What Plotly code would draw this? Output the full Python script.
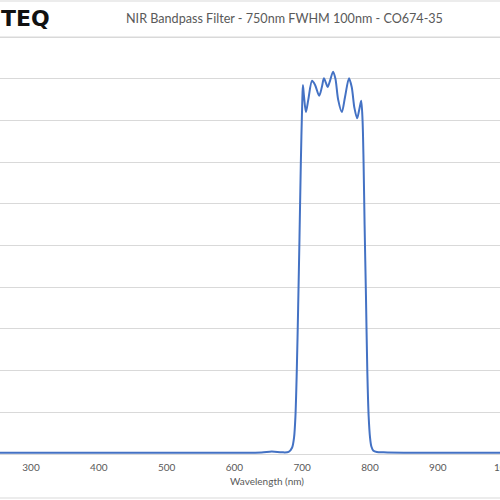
import plotly.graph_objects as go

wavelength_nm = [250, 300, 350, 400, 450, 500, 550, 600, 640, 655, 670, 680, 685, 688, 690, 692, 694, 696, 698,
                 700, 701, 702.5, 705.5, 709, 714.5, 719, 725, 729, 732, 735, 737.5, 741, 745.5, 749, 753, 758.5,
                 763, 769, 773, 777, 781, 784, 787, 789, 790.5, 792, 794, 796, 798, 800, 802, 805, 810, 820, 850,
                 900, 950, 1000]
transmission_pct = [0.3, 0.3, 0.3, 0.3, 0.3, 0.3, 0.3, 0.3, 0.35, 0.6, 0.4, 0.5, 1.5, 4, 9, 20, 35, 52, 70,
                    84, 88.5, 86, 82, 85, 89.5, 88.5, 85.9, 88, 90.1, 89, 88, 89.5, 91.7, 90, 85, 82,
                    85.5, 90.1, 88, 83, 80.5, 82.5, 84.7, 80, 70, 55, 38, 20, 9, 4, 1.8, 0.8, 0.5, 0.4, 0.3,
                    0.3, 0.3, 0.3]
x_ticks = [300, 400, 500, 600, 700, 800, 900, 1000]
y_ticks = [0, 10, 20, 30, 40, 50, 60, 70, 80, 90, 100]

title_text = "NIR Bandpass Filter - 750nm FWHM 100nm - CO674-35"
x_title = "Wavelength (nm)"
logo_text = "TEQ"

W, H = 500, 500
T_M, B_M = 36, 46
plot_h = H - T_M - B_M
X_RANGE = [254.3, 991.7]


def py(p):
    """pixel row -> paper y"""
    return (H - B_M - p) / plot_h


fig = go.Figure()
fig.add_trace(go.Scatter(
    x=wavelength_nm, y=transmission_pct, mode="lines",
    line=dict(color="#4472C4", width=2, shape="spline", smoothing=0.8),
    hoverinfo="skip", showlegend=False,
))

grid = "#d9d9d9"
tick_font = dict(size=10, color="#595959")

# tick labels that fall just beyond the visible range (partly cut off at the edge)
edge_labels = [
    dict(text=str(v), xref="paper", yref="paper",
         x=(v - X_RANGE[0]) / (X_RANGE[1] - X_RANGE[0]), y=py(467),
         xanchor="center", yanchor="middle", showarrow=False, font=tick_font)
    for v in x_ticks if v > X_RANGE[1]
]

fig.update_layout(
    width=W, height=H,
    margin=dict(l=0, r=0, t=T_M, b=B_M, pad=0),
    paper_bgcolor="white", plot_bgcolor="white",
    font=dict(family="Lato, Open Sans, sans-serif", color="#595959"),
    xaxis=dict(range=X_RANGE, tickvals=x_ticks, showgrid=False, zeroline=False,
               showline=True, linecolor=grid, linewidth=1, ticks="",
               ticklabelstandoff=4, tickfont=tick_font),
    yaxis=dict(range=[0, 100.25], tickvals=y_ticks, showgrid=True, gridcolor=grid, gridwidth=1,
               zeroline=False, showline=False, showticklabels=False, ticks=""),
    shapes=[
        dict(type="line", xref="paper", yref="paper", x0=0, x1=1, y0=py(1), y1=py(1),
             line=dict(color=grid, width=1)),
        dict(type="line", xref="paper", yref="paper", x0=0, x1=1, y0=py(37), y1=py(37),
             line=dict(color=grid, width=1), layer="below"),
        dict(type="line", xref="paper", yref="paper", x0=0, x1=1, y0=py(498), y1=py(498),
             line=dict(color=grid, width=1)),
    ],
    annotations=[
        dict(text=title_text, xref="paper", yref="paper", x=284 / W, y=py(19), xanchor="center",
             yanchor="middle", showarrow=False, font=dict(size=12.6, color="#595959")),
        dict(text=x_title, xref="paper", yref="paper", x=267 / W, y=py(481), xanchor="center",
             yanchor="middle", showarrow=False, font=dict(size=10, color="#595959")),
        dict(text="<b>" + logo_text + "</b>", xref="paper", yref="paper", x=52 / W, y=py(18),
             xanchor="right", yanchor="middle", showarrow=False,
             font=dict(family="DejaVu Sans", size=22, color="#111111")),
    ] + edge_labels,
)

fig.write_html("out.html", config={"displayModeBar": False},
               post_script="document.body.style.margin='0';document.body.style.overflow='hidden';")
